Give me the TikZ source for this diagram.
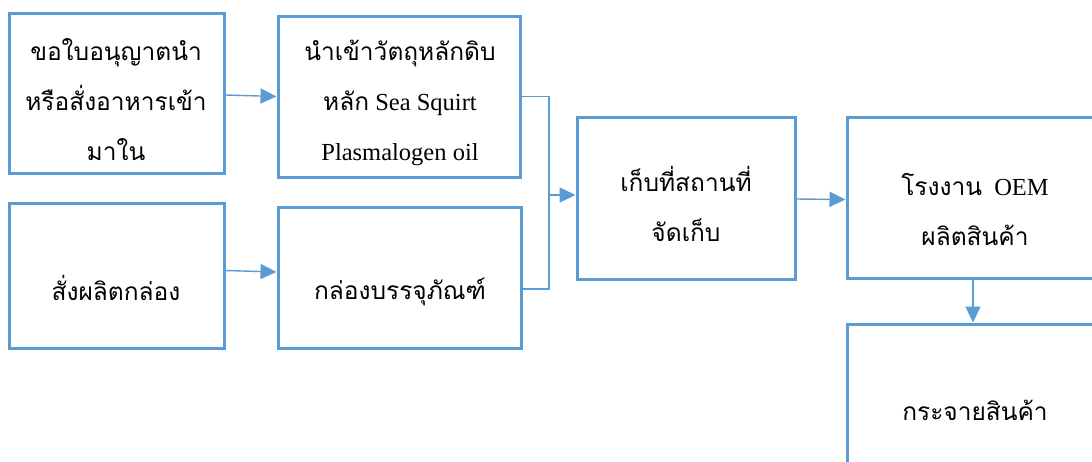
\documentclass[tikz,border=0pt]{standalone}
\usepackage{fontspec}
\setmainfont{Liberation Serif}
\newfontfamily\thai[Script=Thai]{Loma}
\usetikzlibrary{arrows.meta,calc}
\definecolor{bl}{HTML}{5B9BD5}
\tikzset{
  box/.style={draw=bl,line width=3pt,fill=white,inner sep=0pt},
  conn/.style={draw=bl,line width=1.4pt},
  arr/.style={conn,-{Triangle[length=16pt,width=15pt]}},
  txt/.style={align=center,inner sep=0pt,font=\fontsize{24.5}{50}\selectfont}
}
\begin{document}
\begin{tikzpicture}[x=1pt,y=-1pt]
\useasboundingbox (0,0) rectangle (1092,461);
\clip (0,0) rectangle (1092,461);
\fill[white] (0,0) rectangle (1092,461);
% boxes
\node[box,minimum width=215pt,minimum height=160pt] (A) at (116.5,93) {};
\node[box,minimum width=242pt,minimum height=161pt] (B) at (399,96.5) {};
\node[box,minimum width=215pt,minimum height=145pt] (C) at (116.5,275.5) {};
\node[box,minimum width=243pt,minimum height=141pt] (D) at (399.5,277.5) {};
\node[box,minimum width=218pt,minimum height=162pt] (E) at (686,198) {};
\node[box,minimum width=256pt,minimum height=161pt] (F) at (975,197.5) {};
\node[box,minimum width=256pt,minimum height=180pt] (G) at (975,414) {};
% texts
\node[txt] (tA) at (116,100) {{\thai ขอใบอนุญาตนำ}\\{\thai หรือสั่งอาหารเข้า}\\{\thai มาใน}};
\node[txt] (tB) at (400,103) {{\thai นำเข้าวัตถุหลักดิบ}\\{\thai หลัก} Sea Squirt\\Plasmalogen oil};
\node[txt] (tC) at (116,288) {\thai สั่งผลิตกล่อง};
\node[txt] (tD) at (400,292) {\thai กล่องบรรจุภัณฑ์};
\node[txt] (tE) at (686,204) {{\thai เก็บที่สถานที่}\\{\thai จัดเก็บ}};
\node[txt] (tF) at (975,210) {{\thai โรงงาน}\ \ OEM\\{\thai ผลิตสินค้า}};
\node[txt] (tG) at (975,410) {\thai กระจายสินค้า};
% connectors
\coordinate (J) at (549,195);
\draw[arr] ([yshift=-2pt]A.east) -- (B.west);
\draw[arr] ([yshift=5pt]C.east) -- ([yshift=5.5pt]D.west);
\draw[conn] (B.east) -- (B.east -| J) -- ([yshift=-11.5pt]D.east -| J) -- ([yshift=-11.5pt]D.east);
\draw[arr] (J) -- (J -| E.west);
\draw[arr] ([yshift=-1pt]E.east) -- ([yshift=-2pt]F.west);
\draw[arr] ([xshift=-2pt]F.south) -- ([xshift=-2pt]G.north);
\end{tikzpicture}
\end{document}
